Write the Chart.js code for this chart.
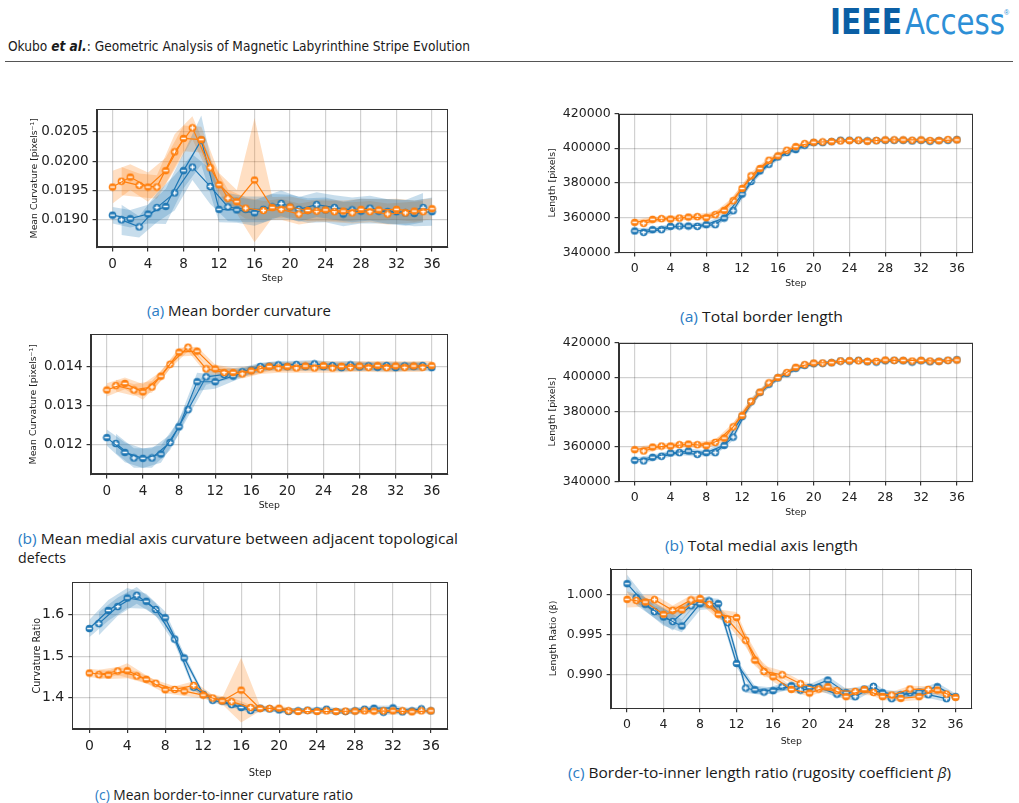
<!DOCTYPE html>
<html>
<head>
<meta charset="utf-8">
<script src="https://cdn.jsdelivr.net/npm/chart.js@4.4.1/dist/chart.umd.min.js"></script>
<style>
  body { margin: 0; width: 1019px; height: 803px; background: #fff; position: relative; overflow: hidden; }
  canvas { position: absolute; }
  .txt { position: absolute; white-space: nowrap; transform-origin: 0 50%; color: #1a1a1a; }
  .cap { font-family: "Open Sans", "Liberation Sans", sans-serif; font-size: 14px; line-height: 18px; }
  .cap b { color: #2a7cc4; font-weight: normal; }
  .head { font-family: "Liberation Sans Narrow", "DejaVu Sans Condensed", sans-serif; font-size: 14px; line-height: 18px; }
  .logo { font-family: "Liberation Sans Narrow", "DejaVu Sans Condensed", sans-serif; font-size: 36px; line-height: 36px; }
  .rule { position: absolute; left: 5px; top: 61px; width: 1008px; height: 1px; background: #555; }
</style>
</head>
<body>
<div class="txt logo" style="left:830px;top:4px;" data-w="72"><span style="color:#0b5fa5;font-weight:bold;">IEEE</span></div>
<div class="txt logo" style="left:905px;top:4px;color:#2d8fd6;" data-w="100">Access</div>
<div class="txt" style="left:1004px;top:9px;font-family:'Liberation Sans';font-size:7px;color:#2d8fd6;">®</div>
<div class="txt head" style="left:8px;top:37px;" data-w="462">Okubo <b><i>et al.</i></b>: Geometric Analysis of Magnetic Labyrinthine Stripe Evolution</div>
<div class="rule"></div>

<div class="txt cap" style="left:147px;top:302px;" data-w="184"><b>(a)</b> Mean border curvature</div>
<div class="txt cap" style="left:680px;top:308px;" data-w="163"><b>(a)</b> Total border length</div>
<div class="txt cap" style="left:18px;top:530px;" data-w="440"><b>(b)</b> Mean medial axis curvature between adjacent topological</div>
<div class="txt cap" style="left:18px;top:549px;" data-w="48">defects</div>
<div class="txt cap" style="left:665px;top:537px;" data-w="193"><b>(b)</b> Total medial axis length</div>
<div class="txt cap" style="left:95px;top:786px;" data-w="258"><b>(c)</b> Mean border-to-inner curvature ratio</div>
<div class="txt cap" style="left:568px;top:764px;" data-w="383"><b>(c)</b> Border-to-inner length ratio (rugosity coefficient <i>β</i>)</div>

<canvas id="la"></canvas>
<canvas id="lb"></canvas>
<canvas id="lc"></canvas>
<canvas id="ra"></canvas>
<canvas id="rb"></canvas>
<canvas id="rc"></canvas>

<script>
// ── data ──────────────────────────────────────────────────────────────────────
const steps = [0, 1, 2, 3, 4, 5, 6, 7, 8, 9, 10, 11, 12, 13, 14, 15, 16, 17, 18, 19, 20,
  21, 22, 23, 24, 25, 26, 27, 28, 29, 30, 31, 32, 33, 34, 35, 36];
const stepTicks = [0, 4, 8, 12, 16, 20, 24, 28, 32, 36];

// (a) left: mean border curvature
const borderCurvTicks = [0.0190, 0.0195, 0.0200, 0.0205];
const borderCurvBlue = [0.01908, 0.01900, 0.01902, 0.01888, 0.01910, 0.01921, 0.01923, 0.01946, 0.01984, 0.01990,
  0.02036, 0.01957, 0.01918, 0.01922, 0.01917, 0.01918, 0.01912, 0.01918, 0.01922, 0.01928, 0.01922, 0.01918,
  0.01916, 0.01926, 0.01917, 0.01921, 0.01910, 0.01917, 0.01915, 0.01920, 0.01915, 0.01914, 0.01914, 0.01912,
  0.01911, 0.01921, 0.01914];
const borderCurvBlueErr = [0.00014, 0.00026, 0.00015, 0.00018, 0.00016, 0.00025, 0.00030, 0.00030, 0.00030, 0.00022,
  0.00042, 0.00030, 0.00022, 0.00024, 0.00022, 0.00022, 0.00022, 0.00022, 0.00022, 0.00022, 0.00021, 0.00021,
  0.00021, 0.00021, 0.00021, 0.00021, 0.00021, 0.00021, 0.00021, 0.00021, 0.00021, 0.00021, 0.00021, 0.00022,
  0.00022, 0.00025, 0.00024];
const borderCurvOrange = [0.01956, 0.01966, 0.01973, 0.01959, 0.01956, 0.01956, 0.01984, 0.02016, 0.02039, 0.02057,
  0.02037, 0.01989, 0.01960, 0.01937, 0.01931, 0.01920, 0.01968, 0.01916, 0.01921, 0.01918, 0.01922, 0.01910,
  0.01916, 0.01915, 0.01917, 0.01914, 0.01915, 0.01912, 0.01918, 0.01914, 0.01917, 0.01910, 0.01918, 0.01912,
  0.01915, 0.01914, 0.01919];
const borderCurvOrangeErr = [0.00028, 0.00024, 0.00022, 0.00020, 0.00025, 0.00020, 0.00022, 0.00030, 0.00022, 0.00020,
  0.00022, 0.00016, 0.00020, 0.00015, 0.00020, 0.00018, 0.00106, 0.00016, 0.00018, 0.00018, 0.00018, 0.00018,
  0.00018, 0.00018, 0.00018, 0.00018, 0.00018, 0.00018, 0.00018, 0.00018, 0.00018, 0.00018, 0.00018, 0.00018,
  0.00018, 0.00018, 0.00018];

// (b) left: mean medial axis curvature
const medialCurvTicks = [0.012, 0.013, 0.014];
const medialCurvBlue = [0.012185, 0.012034, 0.011807, 0.011664, 0.011655, 0.011664, 0.011765, 0.012059, 0.012462,
  0.012899, 0.013613, 0.013739, 0.013613, 0.013798, 0.013756, 0.013866, 0.013908, 0.014000, 0.014008, 0.014042,
  0.014000, 0.014050, 0.014000, 0.014067, 0.014000, 0.014025, 0.013975, 0.014042, 0.013992, 0.014017, 0.013983,
  0.014025, 0.013975, 0.014017, 0.014000, 0.014025, 0.013975];
const medialCurvBlueErr = [0.00021, 0.00025, 0.00025, 0.00025, 0.00025, 0.00025, 0.00022, 0.00020, 0.00018, 0.00018,
  0.00023, 0.00020, 0.00018, 0.00015, 0.00013, 0.00011, 0.00010, 0.00010, 0.00010, 0.00010, 0.00010, 0.00010,
  0.00010, 0.00010, 0.00010, 0.00010, 0.00010, 0.00010, 0.00010, 0.00010, 0.00010, 0.00010, 0.00010, 0.00010,
  0.00010, 0.00010, 0.00010];
const medialCurvOrange = [0.013403, 0.013513, 0.013571, 0.013403, 0.013353, 0.013479, 0.013756, 0.014059, 0.014370,
  0.014496, 0.014395, 0.013941, 0.013941, 0.013849, 0.013849, 0.013815, 0.013891, 0.013933, 0.014000, 0.013966,
  0.014000, 0.013966, 0.014017, 0.013966, 0.014025, 0.013966, 0.014008, 0.013983, 0.014017, 0.013983, 0.014025,
  0.013975, 0.014017, 0.013983, 0.014017, 0.013983, 0.014025];
const medialCurvOrangeErr = [0.00017, 0.00015, 0.00015, 0.00015, 0.00020, 0.00015, 0.00012, 0.00011, 0.00011, 0.00011,
  0.00011, 0.00011, 0.00011, 0.00012, 0.00012, 0.00012, 0.00012, 0.00012, 0.00012, 0.00012, 0.00012, 0.00012,
  0.00012, 0.00012, 0.00012, 0.00012, 0.00012, 0.00012, 0.00012, 0.00012, 0.00012, 0.00012, 0.00012, 0.00012,
  0.00012, 0.00012, 0.00012];

// (c) left: border-to-inner curvature ratio
const curvRatioTicks = [1.4, 1.5, 1.6];
const curvRatioBlue = [1.5667, 1.5786, 1.6103, 1.6198, 1.6405, 1.6468, 1.6325, 1.6127, 1.5929, 1.5413, 1.4960,
  1.4254, 1.4080, 1.3937, 1.3920, 1.3833, 1.3762, 1.3690, 1.3746, 1.3730, 1.3706, 1.3667, 1.3683, 1.3698, 1.3683,
  1.3722, 1.3667, 1.3667, 1.3683, 1.3722, 1.3746, 1.3651, 1.3754, 1.3659, 1.3683, 1.3730, 1.3683];
const curvRatioBlueErr = [0.021, 0.028, 0.025, 0.022, 0.024, 0.020, 0.018, 0.015, 0.015, 0.012, 0.010, 0.008, 0.006,
  0.006, 0.006, 0.006, 0.006, 0.006, 0.006, 0.006, 0.006, 0.006, 0.006, 0.006, 0.006, 0.006, 0.006, 0.006, 0.006,
  0.006, 0.006, 0.006, 0.006, 0.006, 0.006, 0.006, 0.006];
const curvRatioOrange = [1.4595, 1.4556, 1.4548, 1.4643, 1.4651, 1.4524, 1.4444, 1.4349, 1.4190, 1.4198, 1.4159,
  1.4294, 1.4063, 1.3992, 1.3921, 1.3905, 1.4183, 1.3762, 1.3738, 1.3738, 1.3746, 1.3683, 1.3667, 1.3690, 1.3667,
  1.3683, 1.3667, 1.3675, 1.3675, 1.3683, 1.3675, 1.3683, 1.3683, 1.3683, 1.3659, 1.3683, 1.3683];
const curvRatioOrangeErr = [0.010, 0.012, 0.010, 0.010, 0.018, 0.010, 0.010, 0.008, 0.008, 0.008, 0.012, 0.010,
  0.008, 0.008, 0.008, 0.010, 0.078, 0.006, 0.006, 0.006, 0.006, 0.006, 0.006, 0.006, 0.006, 0.006, 0.006, 0.006,
  0.006, 0.006, 0.006, 0.006, 0.006, 0.006, 0.006, 0.006, 0.006];

// (a) right: total border length
const lengthTicks = [340000, 360000, 380000, 400000, 420000];
const borderLenBlue = [352340, 351575, 353110, 353110, 355020, 355210, 355210, 355020, 355980, 355980, 359800,
  364020, 373590, 380860, 386990, 390810, 395020, 397510, 399230, 401720, 403250, 403250, 403830, 404590, 404590,
  404590, 404210, 404400, 404590, 404590, 404590, 404210, 404590, 404020, 404400, 404590, 404980];
const borderLenBlueErr = [1400, 1400, 1400, 1400, 1400, 1400, 1400, 1400, 1400, 1500, 1800, 2000, 2000, 1800, 1600,
  1500, 1400, 1300, 1200, 1100, 1000, 1000, 1000, 1000, 1000, 1000, 1000, 1000, 1000, 1000, 1000, 1000, 1000, 1000,
  1000, 1000, 1000];
const borderLenOrange = [357320, 356740, 359050, 359430, 359240, 359810, 360380, 360580, 360000, 361720, 364210,
  369760, 376840, 384110, 388320, 393110, 395600, 398850, 400960, 402680, 403440, 403630, 403830, 404210, 404400,
  404590, 404020, 404400, 404780, 404780, 404780, 404590, 404780, 404400, 404400, 404980, 404780];
const borderLenOrangeErr = [1500, 1500, 1500, 1500, 1500, 1500, 1500, 1500, 1600, 1700, 2000, 2200, 2200, 2000, 1800,
  1600, 1400, 1300, 1200, 1100, 1000, 1000, 1000, 1000, 1000, 1000, 1000, 1000, 1000, 1000, 1000, 1000, 1000, 1000,
  1000, 1000, 1000];

// (b) right: total medial axis length
const medialLenBlue = [352180, 351800, 353900, 354470, 356380, 356570, 357520, 355610, 356570, 356570, 360760,
  365520, 377330, 385900, 391240, 396000, 399620, 402100, 405140, 406860, 407810, 408000, 408380, 409330, 409330,
  409720, 408950, 408760, 409520, 409720, 409520, 408760, 409520, 408950, 409140, 409720, 410100];
const medialLenBlueErr = [1400, 1400, 1400, 1400, 1400, 1400, 1400, 1400, 1400, 1500, 1800, 2000, 2000, 1800, 1600,
  1500, 1400, 1300, 1200, 1100, 1000, 1000, 1000, 1000, 1000, 1000, 1000, 1000, 1000, 1000, 1000, 1000, 1000, 1000,
  1000, 1000, 1000];
const medialLenOrange = [358280, 357520, 359800, 360380, 360380, 361140, 361520, 361140, 360570, 362470, 364950,
  371430, 377900, 386090, 391430, 396760, 399810, 402670, 405720, 407240, 408190, 408190, 408380, 409330, 409520,
  409520, 409140, 409140, 409900, 409720, 409720, 409330, 409720, 409330, 409140, 409720, 409900];
const medialLenOrangeErr = [1500, 1500, 1500, 1500, 1500, 1500, 1500, 1500, 1600, 1700, 2000, 2200, 2200, 2000, 1800,
  1600, 1400, 1300, 1200, 1100, 1000, 1000, 1000, 1000, 1000, 1000, 1000, 1000, 1000, 1000, 1000, 1000, 1000, 1000,
  1000, 1000, 1000];

// (c) right: border-to-inner length ratio
const lenRatioTicks = [0.990, 0.995, 1.000];
const lenRatioBlue = [1.00132, 0.99959, 0.99877, 0.99786, 0.99720, 0.99663, 0.99609, 0.99860, 0.99885, 0.99918,
  0.99885, 0.99650, 0.99144, 0.98840, 0.98819, 0.98790, 0.98807, 0.98856, 0.98868, 0.98815, 0.98848, 0.98848,
  0.98938, 0.98765, 0.98782, 0.98733, 0.98827, 0.98860, 0.98782, 0.98708, 0.98757, 0.98782, 0.98790, 0.98757,
  0.98856, 0.98708, 0.98733];
const lenRatioBlueErr = [0.0011, 0.0009, 0.0008, 0.0008, 0.0011, 0.0011, 0.0008, 0.0006, 0.0008, 0.0006, 0.0006,
  0.0006, 0.0005, 0.0006, 0.0005, 0.0004, 0.0004, 0.0004, 0.0004, 0.0004, 0.0004, 0.0004, 0.0005, 0.0004, 0.0005,
  0.0005, 0.0004, 0.0005, 0.0004, 0.0004, 0.0004, 0.0004, 0.0004, 0.0004, 0.0005, 0.0004, 0.0004];
const lenRatioOrange = [0.99938, 0.99926, 0.99905, 0.99934, 0.99753, 0.99802, 0.99807, 0.99930, 0.99947, 0.99877,
  0.99753, 0.99691, 0.99712, 0.99432, 0.99185, 0.99045, 0.98979, 0.99004, 0.98823, 0.98893, 0.98778, 0.98827,
  0.98856, 0.98807, 0.98733, 0.98798, 0.98823, 0.98786, 0.98733, 0.98753, 0.98712, 0.98827, 0.98733, 0.98823,
  0.98815, 0.98765, 0.98724];
const lenRatioOrangeErr = [0.0010, 0.0006, 0.0006, 0.0006, 0.0008, 0.0006, 0.0006, 0.0006, 0.0006, 0.0006, 0.0006,
  0.0006, 0.0007, 0.0008, 0.0007, 0.0007, 0.0006, 0.0005, 0.0004, 0.0004, 0.0004, 0.0004, 0.0004, 0.0004, 0.0004,
  0.0004, 0.0004, 0.0004, 0.0004, 0.0004, 0.0004, 0.0004, 0.0004, 0.0004, 0.0004, 0.0004, 0.0004];

// ── look ──────────────────────────────────────────────────────────────────────
const FONT = '"DejaVu Sans", sans-serif';
const BLUE = '#1f77b4', ORANGE = '#ff7f0e';
const BLUE_BAND = 'rgba(31,119,180,0.25)', ORANGE_BAND = 'rgba(255,127,14,0.25)';
const GRID = 'rgba(0,0,0,0.18)';
const AXIS = '#333';
const X_MIN = -1.8, X_MAX = 37.8;
const PAD_TOP = 10, PAD_RIGHT = 14;

function marker(color, plus) {
  const c = document.createElement('canvas');
  c.width = 9; c.height = 9;
  const g = c.getContext('2d');
  g.fillStyle = color;
  g.beginPath(); g.arc(4.5, 4.5, 3.8, 0, Math.PI * 2); g.fill();
  g.strokeStyle = '#fff'; g.lineWidth = 1.5;
  g.beginPath(); g.moveTo(2.2, 4.5); g.lineTo(6.8, 4.5);
  if (plus) { g.moveTo(4.5, 2.2); g.lineTo(4.5, 6.8); }
  g.stroke();
  return c;
}
const MARKERS = {
  [BLUE]: [marker(BLUE, false), marker(BLUE, true)],
  [ORANGE]: [marker(ORANGE, false), marker(ORANGE, true)]
};

// top + right spines
const frame = {
  id: 'frame',
  afterDraw(chart) {
    const { ctx, chartArea: a } = chart;
    ctx.save();
    ctx.strokeStyle = AXIS; ctx.lineWidth = 1;
    ctx.strokeRect(Math.round(a.left) + 0.5, Math.round(a.top) + 0.5,
      Math.round(a.right - a.left) - 1, Math.round(a.bottom - a.top) - 1);
    ctx.restore();
  }
};

// split a series into the even-step run and the odd-step run
function runs(vals, errs, color, band, lineOrder) {
  const out = [];
  [0, 1].forEach(parity => {
    const mid = [], lo = [], hi = [];
    steps.forEach((s, i) => {
      if (s % 2 !== parity) return;
      mid.push({ x: s, y: vals[i] });
      lo.push({ x: s, y: vals[i] - errs[i] });
      hi.push({ x: s, y: vals[i] + errs[i] });
    });
    out.push({ data: lo, borderWidth: 0, pointRadius: 0, fill: false, order: 10 });
    out.push({ data: hi, borderWidth: 0, pointRadius: 0, fill: '-1', backgroundColor: band, order: 10 });
    out.push({ data: mid, borderColor: color, borderWidth: 1.2, pointRadius: 3.6,
      pointStyle: MARKERS[color][parity], fill: false, order: lineOrder });
  });
  return out;
}

function makePanel(p) {
  const [bl, bt, br, bb] = p.box;
  const lhTitle = p.label * 1.2;
  const yw = bl - (p.titleX - lhTitle / 2);
  const xh = p.stepY + (p.stepLabel || p.label) * 0.6 - bb;
  const cv = document.getElementById(p.id);
  const w = Math.round(yw + (br - bl) + PAD_RIGHT);
  const h = Math.round(PAD_TOP + (bb - bt) + xh);
  cv.width = w; cv.height = h;
  cv.style.left = (bl - yw) + 'px';
  cv.style.top = (bt - PAD_TOP) + 'px';

  const datasets = [
    ...runs(p.blue, p.blueErr, BLUE, BLUE_BAND, 2),
    ...runs(p.orange, p.orangeErr, ORANGE, ORANGE_BAND, 1)
  ];

  new Chart(cv, {
    type: 'line',
    data: { datasets },
    options: {
      responsive: false,
      animation: false,
      events: [],
      layout: { padding: { top: PAD_TOP, right: PAD_RIGHT, left: 0, bottom: 0 } },
      plugins: { legend: { display: false }, tooltip: { enabled: false } },
      scales: {
        x: {
          type: 'linear', min: X_MIN, max: X_MAX,
          afterBuildTicks: s => { s.ticks = stepTicks.map(v => ({ value: v })); },
          afterFit: s => { s.height = xh; },
          ticks: { font: { family: FONT, size: p.tick }, color: '#222', padding: 5,
            autoSkip: false, maxRotation: 0, callback: v => String(v) },
          grid: { color: GRID, lineWidth: 1.2, tickLength: 4, tickColor: AXIS },
          border: { color: AXIS, width: 1 },
          title: { display: true, text: 'Step', color: '#222', padding: 0,
            font: { family: FONT, size: p.stepLabel || p.label } }
        },
        y: {
          type: 'linear', min: p.yMin, max: p.yMax,
          afterBuildTicks: s => { s.ticks = p.yTicks.map(v => ({ value: v })); },
          afterFit: s => { s.width = yw; },
          ticks: { font: { family: FONT, size: p.tick }, color: '#222', padding: 4,
            autoSkip: false, callback: v => p.dec === null ? String(Math.round(v)) : v.toFixed(p.dec) },
          grid: { color: GRID, lineWidth: 1.2, tickLength: 4, tickColor: AXIS },
          border: { color: AXIS, width: 1 },
          title: { display: true, text: p.yTitle, color: '#222', padding: 0,
            font: { family: FONT, size: p.label } }
        }
      }
    },
    plugins: [frame]
  });
}

const panels = [
  { id: 'la', box: [97, 107, 448, 247], titleX: 35, stepY: 278, tick: 13.5, label: 9.3,
    yMin: 0.01853, yMax: 0.02089, yTicks: borderCurvTicks, dec: 4, yTitle: 'Mean Curvature [pixels⁻¹]',
    blue: borderCurvBlue, blueErr: borderCurvBlueErr, orange: borderCurvOrange, orangeErr: borderCurvOrangeErr },
  { id: 'lb', box: [91, 331.5, 448, 474], titleX: 34, stepY: 505, tick: 13.5, label: 9.3,
    yMin: 0.011244, yMax: 0.014831, yTicks: medialCurvTicks, dec: 3, yTitle: 'Mean Curvature [pixels⁻¹]',
    blue: medialCurvBlue, blueErr: medialCurvBlueErr, orange: medialCurvOrange, orangeErr: medialCurvOrangeErr },
  { id: 'lc', box: [72.5, 579.5, 448, 728], titleX: 38, stepY: 772, tick: 14, label: 9.6, stepLabel: 10,
    yMin: 1.3245, yMax: 1.678, yTicks: curvRatioTicks, dec: 1, yTitle: 'Curvature Ratio',
    blue: curvRatioBlue, blueErr: curvRatioBlueErr, orange: curvRatioOrange, orangeErr: curvRatioOrangeErr },
  { id: 'ra', box: [619, 112, 973, 252], titleX: 553, stepY: 283, tick: 12.5, label: 9.3,
    yMin: 340000, yMax: 420000, yTicks: lengthTicks, dec: null, yTitle: 'Length [pixels]',
    blue: borderLenBlue, blueErr: borderLenBlueErr, orange: borderLenOrange, orangeErr: borderLenOrangeErr },
  { id: 'rb', box: [619, 341, 973, 481], titleX: 553, stepY: 512, tick: 12.5, label: 9.3,
    yMin: 340000, yMax: 420000, yTicks: lengthTicks, dec: null, yTitle: 'Length [pixels]',
    blue: medialLenBlue, blueErr: medialLenBlueErr, orange: medialLenOrange, orangeErr: medialLenOrangeErr },
  { id: 'rc', box: [611, 567, 972, 708], titleX: 554, stepY: 741, tick: 12.5, label: 9.4,
    yMin: 0.98588, yMax: 1.0032, yTicks: lenRatioTicks, dec: 3, yTitle: 'Length Ratio (β)',
    blue: lenRatioBlue, blueErr: lenRatioBlueErr, orange: lenRatioOrange, orangeErr: lenRatioOrangeErr }
];
panels.forEach(makePanel);

// squeeze the page text to the widths seen in the reference
document.querySelectorAll('[data-w]').forEach(el => {
  const w = el.getBoundingClientRect().width;
  el.style.transform = 'scaleX(' + (el.dataset.w / w) + ')';
});
</script>
</body>
</html>
